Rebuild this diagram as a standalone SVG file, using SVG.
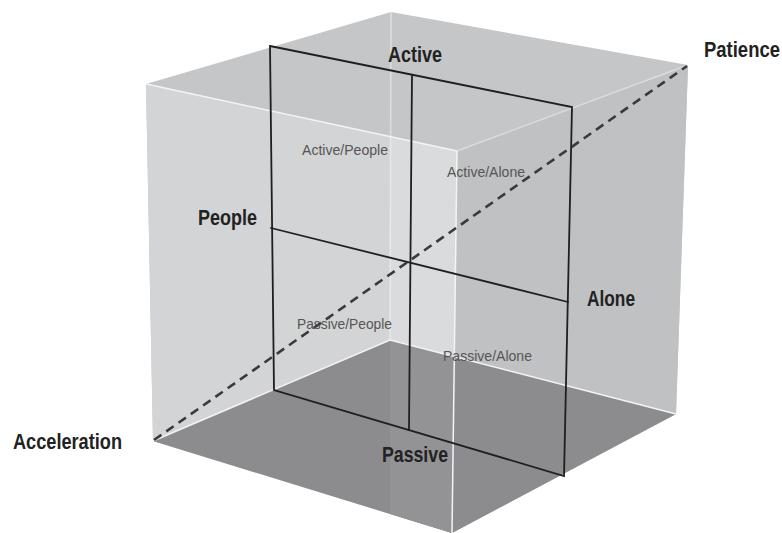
<svg xmlns="http://www.w3.org/2000/svg" width="782" height="533" viewBox="0 0 782 533">
  <style>
    .edge { stroke: #f4f4f4; stroke-width: 1.5; fill: none; }
    .plane { stroke: #1f1f1f; stroke-width: 1.8; fill: none; stroke-linecap: round; }
    .axis { stroke: #3a3a3a; stroke-width: 2.6; stroke-dasharray: 9 6; fill: none; }
    .big { font-family: "Liberation Sans Narrow", "Liberation Sans", Arial, sans-serif; font-weight: bold; font-size: 22px; fill: #222; }
    .small { font-family: "Liberation Sans Narrow", "Liberation Sans", Arial, sans-serif; font-size: 15px; fill: #555; }
  </style>
  <rect width="782" height="533" fill="#ffffff"/>

  <!-- transparent cube, drawn as flat shaded regions -->
  <g id="cube">
    <!-- silhouette / top face seen from above -->
    <polygon points="146,84 391,12 688,65 676,414 452,533 153,441" fill="#c5c6c8"/>
    <!-- right front face -->
    <polygon points="457,151 688,65 676,414 452,533" fill="#c0c1c3"/>
    <!-- left front face -->
    <polygon points="146,84 390,137 390,514 153,441" fill="#d3d4d6"/>
    <!-- overlap strip between back edge and front edge -->
    <polygon points="390,137 457,151 452,533 390,514" fill="#dadbdd"/>
    <!-- floor -->
    <polygon points="153,441 390,340 676,414 452,533" fill="#8c8c8e"/>
    <polygon points="390,340 456,357 452,533 390,514" fill="#939395"/>
    <!-- light edges -->
    <line class="edge" x1="391" y1="12" x2="390" y2="340" stroke-opacity="0.55"/>
    <line class="edge" x1="146" y1="84" x2="457" y2="151"/>
    <line class="edge" x1="457" y1="151" x2="688" y2="65" stroke-opacity="0.5"/>
    <line class="edge" x1="457" y1="151" x2="452" y2="533"/>
    <polyline class="edge" points="153,441 390,340 676,414"/>
  </g>

  <!-- the quadrant plane inside the cube -->
  <g id="plane">
    <polygon class="plane" points="270,46 572,107 564,476 274,390"/>
    <line class="plane" x1="412" y1="75" x2="409" y2="430"/>
    <line class="plane" x1="271" y1="228" x2="568" y2="302"/>
  </g>

  <!-- connectors: the acceleration / patience axis -->
  <g id="connectors">
    <line class="axis" x1="154" y1="440" x2="687" y2="66"/>
  </g>

  <!-- axis labels -->
  <g id="label-active"><text class="big" x="388" y="62" textLength="54" lengthAdjust="spacingAndGlyphs">Active</text></g>
  <g id="label-patience"><text class="big" transform="translate(704,57) scale(0.84,1)" font-size="21">Patience</text></g>
  <g id="label-people"><text class="big" x="198" y="225" textLength="59" lengthAdjust="spacingAndGlyphs">People</text></g>
  <g id="label-alone"><text class="big" x="587" y="306" textLength="48" lengthAdjust="spacingAndGlyphs">Alone</text></g>
  <g id="label-acceleration"><text class="big" x="13" y="449" textLength="109" lengthAdjust="spacingAndGlyphs">Acceleration</text></g>
  <g id="label-passive"><text class="big" x="382" y="462" textLength="66" lengthAdjust="spacingAndGlyphs">Passive</text></g>

  <!-- quadrant labels -->
  <g id="quadrant-active-people"><text class="small" x="302" y="155" textLength="86" lengthAdjust="spacingAndGlyphs">Active/People</text></g>
  <g id="quadrant-active-alone"><text class="small" x="447" y="177" textLength="78" lengthAdjust="spacingAndGlyphs">Active/Alone</text></g>
  <g id="quadrant-passive-people"><text class="small" x="297" y="329" textLength="95" lengthAdjust="spacingAndGlyphs">Passive/People</text></g>
  <g id="quadrant-passive-alone"><text class="small" x="443" y="361" textLength="89" lengthAdjust="spacingAndGlyphs">Passive/Alone</text></g>
</svg>
